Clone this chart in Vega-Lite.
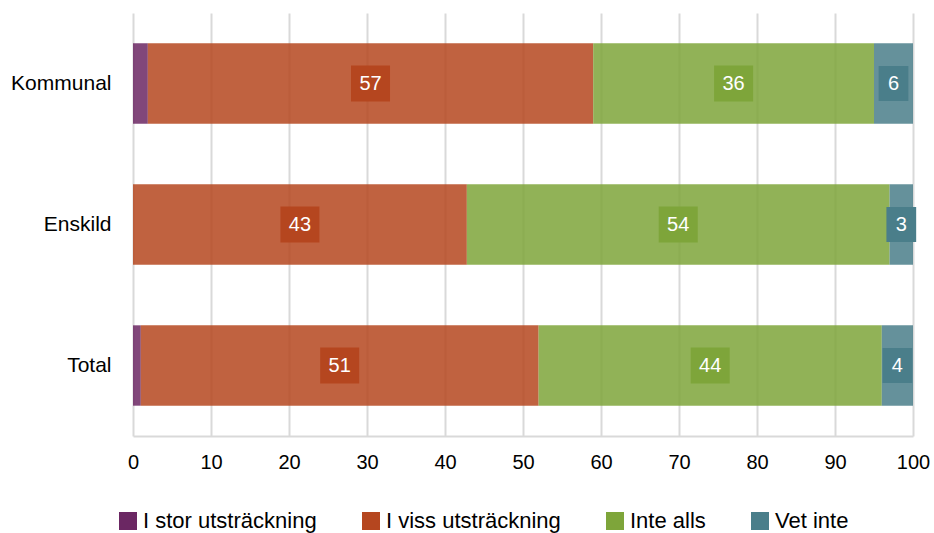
{
  "$schema": "https://vega.github.io/schema/vega-lite/v6.json",
  "width": 780,
  "height": 423,
  "autosize": {"type": "none"},
  "padding": {"left": 133, "top": 13, "right": 21, "bottom": 97},
  "background": "white",
  "config": {"font": "Liberation Sans", "view": {"stroke": null}},
  "data": {
    "values": [
      {"cat": "Kommunal", "resp": "I stor utsträckning", "value": 1.9, "label": null},
      {"cat": "Kommunal", "resp": "I viss utsträckning", "value": 57.1, "label": 57},
      {"cat": "Kommunal", "resp": "Inte alls", "value": 36.0, "label": 36},
      {"cat": "Kommunal", "resp": "Vet inte", "value": 5.0, "label": 6},
      {"cat": "Enskild", "resp": "I stor utsträckning", "value": 0, "label": null},
      {"cat": "Enskild", "resp": "I viss utsträckning", "value": 42.8, "label": 43},
      {"cat": "Enskild", "resp": "Inte alls", "value": 54.2, "label": 54},
      {"cat": "Enskild", "resp": "Vet inte", "value": 3.0, "label": 3},
      {"cat": "Total", "resp": "I stor utsträckning", "value": 1.0, "label": null},
      {"cat": "Total", "resp": "I viss utsträckning", "value": 51.0, "label": 51},
      {"cat": "Total", "resp": "Inte alls", "value": 44.0, "label": 44},
      {"cat": "Total", "resp": "Vet inte", "value": 4.0, "label": 4}
    ]
  },
  "encoding": {
    "y": {
      "field": "cat",
      "type": "nominal",
      "sort": ["Kommunal", "Enskild", "Total"],
      "scale": {"paddingInner": 0.43, "paddingOuter": 0.215},
      "axis": {"title": null, "ticks": false, "domain": false, "labelFontSize": 21, "labelColor": "#000", "labelPadding": 22}
    }
  },
  "layer": [
    {
      "mark": {"type": "bar", "fillOpacity": 0.85},
      "encoding": {
        "x": {
          "field": "value",
          "type": "quantitative",
          "scale": {"domain": [0, 100]},
          "axis": {
            "title": null,
            "values": [0, 10, 20, 30, 40, 50, 60, 70, 80, 90, 100],
            "grid": true,
            "gridColor": "#d9d9d9",
            "gridWidth": 2,
            "domainColor": "#d9d9d9",
            "domainWidth": 2,
            "ticks": false,
            "labelFlush": false,
            "labelFontSize": 20,
            "labelPadding": 16,
            "labelColor": "#000"
          }
        },
        "color": {
          "field": "resp",
          "type": "nominal",
          "scale": {
            "domain": ["I stor utsträckning", "I viss utsträckning", "Inte alls", "Vet inte"],
            "range": ["#6b2763", "#b5461f", "#7ea53a", "#4a7e8a"]
          },
          "legend": {
            "title": null,
            "orient": "none",
            "legendX": -16,
            "legendY": 497,
            "direction": "horizontal",
            "columns": 4,
            "symbolType": "square",
            "symbolSize": 324,
            "symbolOpacity": 1,
            "symbolStrokeWidth": 0,
            "labelFontSize": 22,
            "labelColor": "#000",
            "labelLimit": 300,
            "labelOffset": 4,
            "columnPadding": 43
          }
        }
      }
    },
    {
      "transform": [
        {"stack": "value", "groupby": ["cat"], "sort": [{"field": "resp", "order": "ascending"}], "as": ["x0", "x1"]},
        {"filter": "isValid(datum.label)"},
        {"fold": ["x0", "x1"], "as": ["k", "pos"]},
        {"aggregate": [{"op": "mean", "field": "pos", "as": "mid"}], "groupby": ["cat", "resp", "label"]}
      ],
      "mark": {"type": "point", "filled": true, "opacity": 1, "strokeWidth": 0},
      "encoding": {
        "x": {"field": "mid", "type": "quantitative"},
        "fill": {
          "field": "resp",
          "type": "nominal",
          "scale": {
            "domain": ["I stor utsträckning", "I viss utsträckning", "Inte alls", "Vet inte"],
            "range": ["#6b2763", "#b5461f", "#7ea53a", "#4a7e8a"]
          },
          "legend": null
        },
        "shape": {"condition": {"test": "datum.label < 10", "value": "M-0.85,-1H0.85V1H-0.85Z"}, "value": "M-1,-0.92H1V0.92H-1Z"},
        "size": {"condition": {"test": "datum.label < 10", "value": 1225}, "value": 1521}
      }
    },
    {
      "transform": [
        {"stack": "value", "groupby": ["cat"], "sort": [{"field": "resp", "order": "ascending"}], "as": ["x0", "x1"]},
        {"filter": "isValid(datum.label)"},
        {"fold": ["x0", "x1"], "as": ["k", "pos"]},
        {"aggregate": [{"op": "mean", "field": "pos", "as": "mid"}], "groupby": ["cat", "resp", "label"]}
      ],
      "mark": {"type": "text", "color": "white", "fontSize": 20, "align": "center", "baseline": "middle"},
      "encoding": {
        "x": {"field": "mid", "type": "quantitative"},
        "text": {"field": "label", "type": "quantitative", "format": "d"}
      }
    }
  ]
}
